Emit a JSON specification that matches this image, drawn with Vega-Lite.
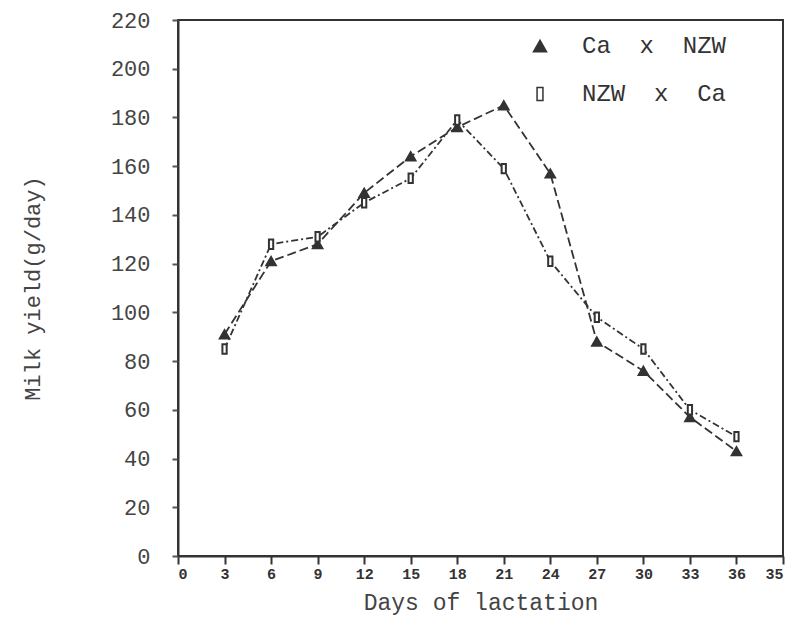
{
  "$schema": "https://vega.github.io/schema/vega-lite/v6.json",
  "width": 605,
  "height": 536,
  "autosize": {"type": "none"},
  "padding": {"left": 178, "top": 20, "right": 10, "bottom": 75},
  "background": "white",
  "config": {
    "view": {"stroke": "#333", "strokeWidth": 2},
    "font": "Liberation Mono"
  },
  "data": {
    "values": [
      {"series": "Ca x NZW", "day": 3, "yield": 91},
      {"series": "Ca x NZW", "day": 6, "yield": 121},
      {"series": "Ca x NZW", "day": 9, "yield": 128},
      {"series": "Ca x NZW", "day": 12, "yield": 149},
      {"series": "Ca x NZW", "day": 15, "yield": 164},
      {"series": "Ca x NZW", "day": 18, "yield": 176},
      {"series": "Ca x NZW", "day": 21, "yield": 185},
      {"series": "Ca x NZW", "day": 24, "yield": 157},
      {"series": "Ca x NZW", "day": 27, "yield": 88},
      {"series": "Ca x NZW", "day": 30, "yield": 76},
      {"series": "Ca x NZW", "day": 33, "yield": 57},
      {"series": "Ca x NZW", "day": 36, "yield": 43},
      {"series": "NZW x Ca", "day": 3, "yield": 85},
      {"series": "NZW x Ca", "day": 6, "yield": 128},
      {"series": "NZW x Ca", "day": 9, "yield": 131},
      {"series": "NZW x Ca", "day": 12, "yield": 145},
      {"series": "NZW x Ca", "day": 15, "yield": 155},
      {"series": "NZW x Ca", "day": 18, "yield": 179},
      {"series": "NZW x Ca", "day": 21, "yield": 159},
      {"series": "NZW x Ca", "day": 24, "yield": 121},
      {"series": "NZW x Ca", "day": 27, "yield": 98},
      {"series": "NZW x Ca", "day": 30, "yield": 85},
      {"series": "NZW x Ca", "day": 33, "yield": 60},
      {"series": "NZW x Ca", "day": 36, "yield": 49}
    ]
  },
  "encoding": {
    "x": {
      "field": "day", "type": "quantitative",
      "scale": {"domain": [0, 39], "nice": false},
      "axis": {
        "values": [0, 3, 6, 9, 12, 15, 18, 21, 24, 27, 30, 33, 36, 39],
        "labelExpr": "datum.value == 39 ? '35' : datum.label",
        "title": "Days of lactation",
        "titleFontSize": 23, "titleFontWeight": "normal", "titleColor": "#444",
        "titlePadding": 10,
        "labelFontSize": 15, "labelFontWeight": "bold", "labelColor": "#333",
        "tickSize": 8, "tickColor": "#333", "tickWidth": 2,
        "domainColor": "#333", "domainWidth": 2, "grid": false
      }
    },
    "y": {
      "field": "yield", "type": "quantitative",
      "scale": {"domain": [0, 220], "nice": false},
      "axis": {
        "values": [0, 20, 40, 60, 80, 100, 120, 140, 160, 180, 200, 220],
        "title": "Milk yield(g/day)",
        "titleFontSize": 22, "titleFontWeight": "normal", "titleColor": "#444",
        "titlePadding": 66,
        "labelFontSize": 22, "labelColor": "#444", "labelPadding": 22,
        "tickSize": 6, "tickColor": "#555", "tickWidth": 2,
        "domainColor": "#333", "domainWidth": 2, "grid": false
      }
    }
  },
  "resolve": {"legend": {"strokeDash": "independent"}},
  "layer": [
    {
      "mark": {"type": "line", "color": "#333", "strokeWidth": 1.8},
      "encoding": {
        "detail": {"field": "series"},
        "strokeDash": {
          "field": "series", "type": "nominal",
          "scale": {"domain": ["Ca x NZW", "NZW x Ca"], "range": [[9, 4], [7, 3, 2, 3]]},
          "legend": null
        }
      }
    },
    {
      "mark": {"type": "point", "size": 90, "strokeWidth": 2, "opacity": 1, "filled": false, "stroke": "#333"},
      "encoding": {
        "shape": {
          "field": "series", "type": "nominal",
          "scale": {"domain": ["Ca x NZW", "NZW x Ca"], "range": ["triangle-up", "M-0.45,-1H0.45V1H-0.45Z"]},
          "legend": {
            "title": null, "orient": "none", "legendX": 350, "legendY": 14,
            "labelFontSize": 24, "labelColor": "#333", "symbolSize": 170,
            "rowPadding": 24, "labelOffset": 30,
            "labelExpr": "replace(datum.label, / /g, '\u00a0\u00a0')",
            "encode": {"symbols": {"update": {"stroke": {"value": "#333"}, "strokeWidth": {"value": 2}}}}
          }
        },
        "fill": {
          "field": "series", "type": "nominal",
          "scale": {"domain": ["Ca x NZW", "NZW x Ca"], "range": ["#333", "white"]}
        }
      }
    }
  ]
}
